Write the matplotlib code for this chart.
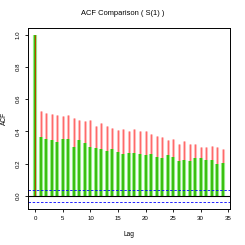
import numpy as np
import matplotlib
matplotlib.use("Agg")
import matplotlib.pyplot as plt

plt.rcParams['font.family'] = ['Liberation Sans', 'DejaVu Sans']

# ---- data ----
lags = list(range(35))
acf_red = [1.0, 0.525, 0.514, 0.508, 0.504, 0.496, 0.500, 0.486, 0.473, 0.463,
           0.471, 0.434, 0.450, 0.434, 0.420, 0.409, 0.414, 0.403, 0.415, 0.403,
           0.401, 0.384, 0.370, 0.366, 0.347, 0.355, 0.324, 0.341, 0.324, 0.322,
           0.304, 0.302, 0.310, 0.304, 0.291]
acf_green = [1.0, 0.366, 0.355, 0.347, 0.333, 0.353, 0.353, 0.306, 0.347, 0.331,
             0.304, 0.300, 0.293, 0.279, 0.291, 0.271, 0.262, 0.265, 0.267, 0.262,
             0.254, 0.258, 0.244, 0.233, 0.254, 0.242, 0.217, 0.225, 0.215, 0.237,
             0.235, 0.221, 0.223, 0.198, 0.206]
conf = 0.038
xticks = [0, 5, 10, 15, 20, 25, 30, 35]
yticks = [0.0, 0.2, 0.4, 0.6, 0.8, 1.0]

fig = plt.figure(figsize=(2.45, 2.45), dpi=100)
ax = fig.add_axes([0.114, 0.147, 0.825, 0.739])

# red series (pink halo + red core)
ax.vlines(lags, 0, acf_red, color='#ffc0c0', lw=2.2)
ax.vlines(lags, 0, acf_red, color='#ff6a6a', lw=0.8)
# green series
ax.vlines(lags, 0, acf_green, color='#a8f5a0', lw=3.0)
ax.vlines(lags, 0, acf_green, color='#3cbf10', lw=1.7)
ax.vlines([0], 0, [acf_red[0]], color='#bb4400', lw=0.7)

ax.axhline(0, color='black', lw=0.8)
ax.axhline(conf, color='blue', lw=0.6, ls=(0, (3, 2)))
ax.axhline(-conf, color='blue', lw=0.6, ls=(0, (3, 2)))

ax.set_xlim(-1.36, 35.36)
ax.set_ylim(-0.0806, 1.0416)
ax.set_xticks(xticks)
ax.set_yticks(yticks)
ax.set_xticklabels([str(t) for t in xticks], fontsize=4.4)
ax.set_yticklabels(['%.1f' % t for t in yticks], fontsize=4.4, rotation=90, va='center')
ax.tick_params(length=2.5, width=0.6, pad=2.5)
for s in ax.spines.values():
    s.set_linewidth(0.7)

ax.set_xlabel('Lag', fontsize=4.8, labelpad=7)
ax.set_ylabel('ACF', fontsize=4.8, labelpad=6)
fig.text(0.5, 0.943, 'ACF Comparison ( S(1) )', ha='center', va='center', fontsize=5.4)

fig.savefig('out.png', dpi=100)
